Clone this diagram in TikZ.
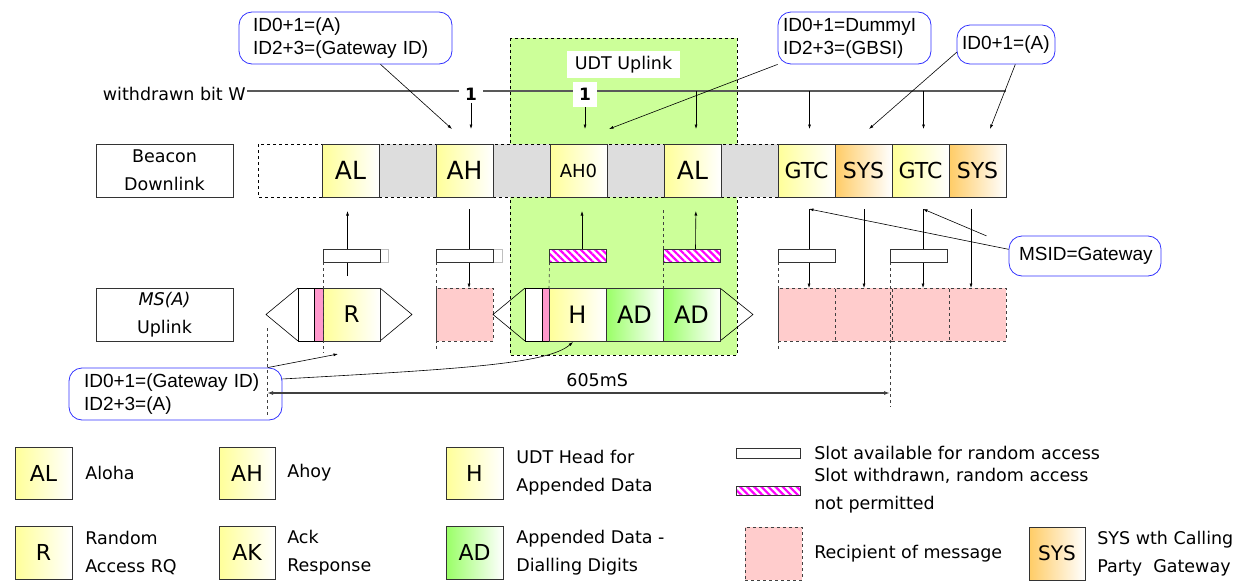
\documentclass[tikz,border=0pt]{standalone}
\usepackage{fontspec}
\setmainfont{Liberation Sans}
\newfontfamily\comicfont{DejaVu Sans}
\usepackage{xcolor}
\usepackage{tikz}
\usetikzlibrary{arrows.meta, positioning, calc, patterns.meta}

\definecolor{udtgreen}{HTML}{CCFF99}
\definecolor{slotgray}{HTML}{DDDDDD}
\definecolor{slotyellow}{HTML}{FFFF99}
\definecolor{sysorange}{HTML}{FFCC66}
\definecolor{adgreen}{HTML}{99FF66}
\definecolor{recpink}{HTML}{FFCCCC}
\definecolor{stripepink}{HTML}{FF99CC}
\definecolor{hatchmagenta}{HTML}{FF00FF}
\definecolor{calloutblue}{HTML}{3333FF}

\newcommand{\lblfont}{\comicfont\fontsize{17.5}{28}\selectfont}
\newcommand{\bigslot}{\comicfont\fontsize{25}{25}\selectfont}
\newcommand{\midslot}{\comicfont\fontsize{22}{22}\selectfont}
\newcommand{\keyslot}{\comicfont\fontsize{22}{22}\selectfont}

\tikzset{
  slotbox/.style={draw=black!80, minimum width=57pt, minimum height=53pt, inner sep=0pt, outer sep=0pt, font=\bigslot},
  yslot/.style={slotbox, left color=slotyellow, right color=white},
  oslot/.style={slotbox, left color=sysorange, right color=white, font=\midslot},
  gslot/.style={slotbox, left color=adgreen, right color=white},
  recbox/.style={slotbox, draw=black!75, dashed, fill=recpink},
  barbox/.style={draw=black!80, fill=white, minimum width=57pt, minimum height=13pt, inner sep=0pt, outer sep=0pt},
  hatchbar/.style={barbox, preaction={fill=white}, pattern={Lines[angle=-45, distance=5pt, line width=2.2pt]}, pattern color=hatchmagenta},
  rowbox/.style={draw=black!80, minimum width=137pt, minimum height=53pt, align=center, font=\lblfont},
  lbl/.style={font=\lblfont, align=left, inner sep=0pt},
  onebit/.style={fill=white, inner xsep=6pt, inner ysep=2pt, font=\comicfont\bfseries\fontsize{17}{17}\selectfont},
  callout/.style={draw=calloutblue, line width=0.8pt, rounded corners=13pt, align=left, inner ysep=0pt, font=\fontsize{19}{23}\selectfont},
  wline/.style={draw=black!65, line width=1.3pt},
  vdash/.style={draw=black!75, dash pattern=on 3pt off 3pt},
}

\begin{document}
\begin{tikzpicture}[x=1pt, y=-1pt, >={Latex[length=4.5pt,width=3pt]}, line width=0.6pt]
\useasboundingbox (0,0) rectangle (1245,581);

% UDT uplink area
\draw[dashed, fill=udtgreen] (510,38) rectangle (737,355);
\node[lbl, fill=white, minimum width=113pt, minimum height=27pt] (udt) at (623.5,64.5) {UDT Uplink};

% withdrawn bit
\node[lbl, anchor=east, inner sep=1pt] (wlab) at (247,94) {withdrawn bit W};
\coordinate (wr) at (1006,91);
\draw[wline] (wlab.east |- wr) -- (wr);
\node[onebit] (one1) at (471,94.5) {1};
\node[onebit, minimum width=24pt, minimum height=25pt] (one2) at (585,94.5) {1};

% beacon downlink row
\node[rowbox] (rlB) at (164.5,170.5) {Beacon\\Downlink};
\fill[slotgray] (379,144) rectangle (436,197) (493,144) rectangle (550,197)
  (607,144) rectangle (664,197) (721,144) rectangle (778,197);
\draw[dashed] (258,144) rectangle (778,197);
\node[yslot] (bAL1) at (350.5,170.5) {AL};
\node[yslot] (bAH) at (464.5,170.5) {AH};
\node[yslot, font=\comicfont\fontsize{18}{18}\selectfont] (bAHO) at (578.5,170.5) {AH0};
\node[yslot] (bAL2) at (692.5,170.5) {AL};
\node[yslot, font=\midslot] (bGTC1) at (806.5,170.5) {GTC};
\node[oslot, right=0pt of bGTC1] (bSYS1) {SYS};
\node[yslot, font=\midslot, right=0pt of bSYS1] (bGTC2) {GTC};
\node[oslot, right=0pt of bGTC2] (bSYS2) {SYS};

% arrows from the withdrawn bit line
\coordinate (tAH) at (452,129);
\coordinate (tAHO) at (609,129);
\coordinate (tSYS1) at (869,129);
\coordinate (tSYS2) at (990,129);
\draw[->] (one1) -- (one1 |- tAH);
\draw[->] (one2) -- (one2 |- tAH);
\foreach \s/\dx in {bAL2/3.5, bGTC1/3, bGTC2/3}
  \draw[->, shorten >=15pt] ($(\s.north |- wr)+(\dx,0)$) -- ($(\s.north)+(\dx,0)$);

% MS(A) uplink row
\node[rowbox, font=\lblfont\itshape] (rlM) at (164.5,314.5) {MS(A)\\\upshape Uplink};
\draw (298,288) -- (266,314.5) -- (298,341) (380,288) -- (412,314.5) -- (380,341);
\draw[fill=white] (298,288) rectangle (314,341);
\draw[fill=stripepink] (314,288) rectangle (323,341);
\node[yslot, font=\comicfont\fontsize{23}{23}\selectfont] (mR) at (351.5,314.5) {R};
\node[recbox] (mP1) at (464.5,314.5) {};
\draw (525,288) -- (493,314.5) -- (525,341) (720,288) -- (753,314.5) -- (720,341);
\draw[fill=white] (525,288) rectangle (542,341);
\draw[fill=stripepink] (542,288) rectangle (549,341);
\node[yslot, font=\comicfont\fontsize{24}{24}\selectfont] (mH) at (577.5,314.5) {H};
\node[gslot, font=\comicfont\fontsize{24}{24}\selectfont, right=0pt of mH] (mAD1) {AD};
\node[gslot, font=\comicfont\fontsize{24}{24}\selectfont, right=0pt of mAD1] (mAD2) {AD};
\node[recbox] (mP2) at (806.5,314.5) {};
\node[recbox, right=0pt of mP2] (mP3) {};
\node[recbox, right=0pt of mP3] (mP4) {};
\node[recbox, right=0pt of mP4] (mP5) {};

% random access links
\draw[->, shorten <=12pt, shorten >=14pt] ($(mR.north)+(-4,0)$) -- ($(bAL1.south)+(-3,0)$);
\draw[->, shorten <=12pt] ($(bAH.south)+(4.5,0)$) -- ($(mP1.north)+(4.5,0)$);
\coordinate (gtop1) at ($(bGTC1.south)+(2.5,12)$);
\coordinate (gtop2) at ($(bGTC2.south)+(2.5,12)$);
\draw[->] (gtop1) -- (gtop1 |- mP2.north);
\draw[->, shorten <=12pt] ($(bSYS1.south)+(0.5,0)$) -- ($(mP3.north)+(0.5,0)$);
\draw[->] (gtop2) -- (gtop2 |- mP4.north);
\draw[->, shorten <=12pt] ($(bSYS2.south)+(-6.5,0)$) -- ($(mP5.north)+(-6.5,0)$);

\draw[black!25] (380,249) rectangle (388,262) (493,249) rectangle (502,262);
\node[barbox] (bar1) at (351.5,255.5) {};
\node[barbox] (bar2) at (464.5,255.5) {};
\node[hatchbar] (bar3) at (578,255.5) {};
\node[hatchbar] (bar4) at (691.5,255.5) {};
\node[barbox] (bar5) at (806.5,255.5) {};
\node[barbox] (bar6) at (918.5,255.5) {};
\draw[->, shorten >=14pt] ($(bar3.north)+(4,0)$) -- ($(bAHO.south)+(3.5,0)$);
\draw[->, shorten >=14pt] ($(bar4.north)+(4,0)$) -- ($(bAL2.south)+(3.5,0)$);

% callouts
\node[callout, minimum width=213pt, minimum height=52pt, inner xsep=14pt, text width=185pt] (c1) at (345.5,38) {ID0+1=(A)\\ID2+3=(Gateway ID)};
\node[callout, minimum width=153pt, minimum height=52pt, inner xsep=5pt, text width=143pt] (c2) at (854.5,38) {ID0+1=DummyI\\ID2+3=(GBSI)};
\node[callout, minimum width=98pt, minimum height=39pt, inner xsep=5pt, text width=88pt] (c3) at (1006,44.5) {ID0+1=(A)};
\node[callout, minimum width=152pt, minimum height=40pt, inner xsep=10pt, text width=132pt] (msid) at (1085,256) {MSID=Gateway};
\node[callout, minimum width=213pt, minimum height=52pt, inner xsep=15pt, text width=183pt] (c4) at (175.5,394) {ID0+1=(Gateway ID)\\ID2+3=(A)};
\coordinate (tR) at (338,354);
\coordinate (tH) at (573,342);
\draw[->] (c1.-37) -- (tAH);
\draw[->] (c2.south west) -- (tAHO);
\draw[->] (c3.-171) -- (tSYS1);
\draw[->] (c3.-65) -- (tSYS2);
\draw[->] (msid.175) -- (gtop1);
\draw[->, shorten <=24pt] (msid.172) -- (gtop2);
\draw[->] (c4.16) -- (tR);
\draw[->] (c4.8) .. controls (460,369) and (548,364) .. (tH);

% dashed guides
\draw[vdash] (bar1.south west) -- ++(0,91);
\draw[vdash] (bar2.south west) -- ++(0,88);
\draw[vdash] (bar3.south west) -- (mH.north west);
\draw[vdash] (bar4.south west) -- (mAD2.north west);
\draw[vdash] (bar4.north west) -- ++(0,-41);
\draw[vdash] (bar5.south west) -- ++(0,88);
\draw[vdash] (bar6.south west) -- ++(0,145);

% 605 ms span
\coordinate (dL) at (267,393);
\coordinate (dR) at (bar6.south west |- dL);
\draw[vdash] (267,328) -- (267,417);
\draw[{Latex[length=6pt,width=4pt]}-{Latex[length=6pt,width=4pt]}, black!75, line width=1.2pt] (dL) -- (dR)
  node[lbl, text=black, pos=0.53, above=6pt] (span) {605mS};

% key
\node[yslot, minimum height=52pt, font=\keyslot] (kAL) at (43.5,473) {AL};
\node[lbl, right=13pt of kAL] (xAL) {Aloha};
\node[yslot, minimum height=52pt, minimum width=56pt, font=\keyslot] (kAH) at (247,473) {AH};
\node[lbl, right=12pt of kAH] (xAH) {Ahoy};
\node[yslot, minimum height=52pt, font=\keyslot] (kH) at (474.5,473) {H};
\node[lbl, right=13pt of kH] (xH) {UDT Head for\\Appended Data};
\node[yslot, font=\keyslot] (kR) at (43.5,552.5) {R};
\node[lbl, right=13pt of kR] (xR) {Random\\Access RQ};
\node[yslot, minimum width=56pt, font=\keyslot] (kAK) at (247,552.5) {AK};
\node[lbl, right=12pt of kAK] (xAK) {Ack\\Response};
\node[gslot, font=\keyslot] (kAD) at (474.5,552.5) {AD};
\node[lbl, right=13pt of kAD] (xAD) {Appended Data -\\Dialling Digits};
\node[barbox, minimum width=64pt, minimum height=10pt] (kBar) at (768,453) {};
\node[lbl, right=14pt of kBar] (xBar) {Slot available for random access};
\node[hatchbar, minimum width=64pt, minimum height=9pt] (kHatch) at (768,490.5) {};
\node[lbl, right=14pt of kHatch] (xHatch) {Slot withdrawn, random access\\not permitted};
\node[recbox] (kRec) at (773.5,553.5) {};
\node[lbl, right=12pt of kRec] (xRec) {Recipient of message};
\node[oslot, minimum width=56pt, font=\comicfont\fontsize{20}{20}\selectfont] (kSYS) at (1057,553.5) {SYS};
\node[lbl, right=12pt of kSYS] (xSYS) {SYS wth Calling\\Party\ \ Gateway};
\end{tikzpicture}
\end{document}
